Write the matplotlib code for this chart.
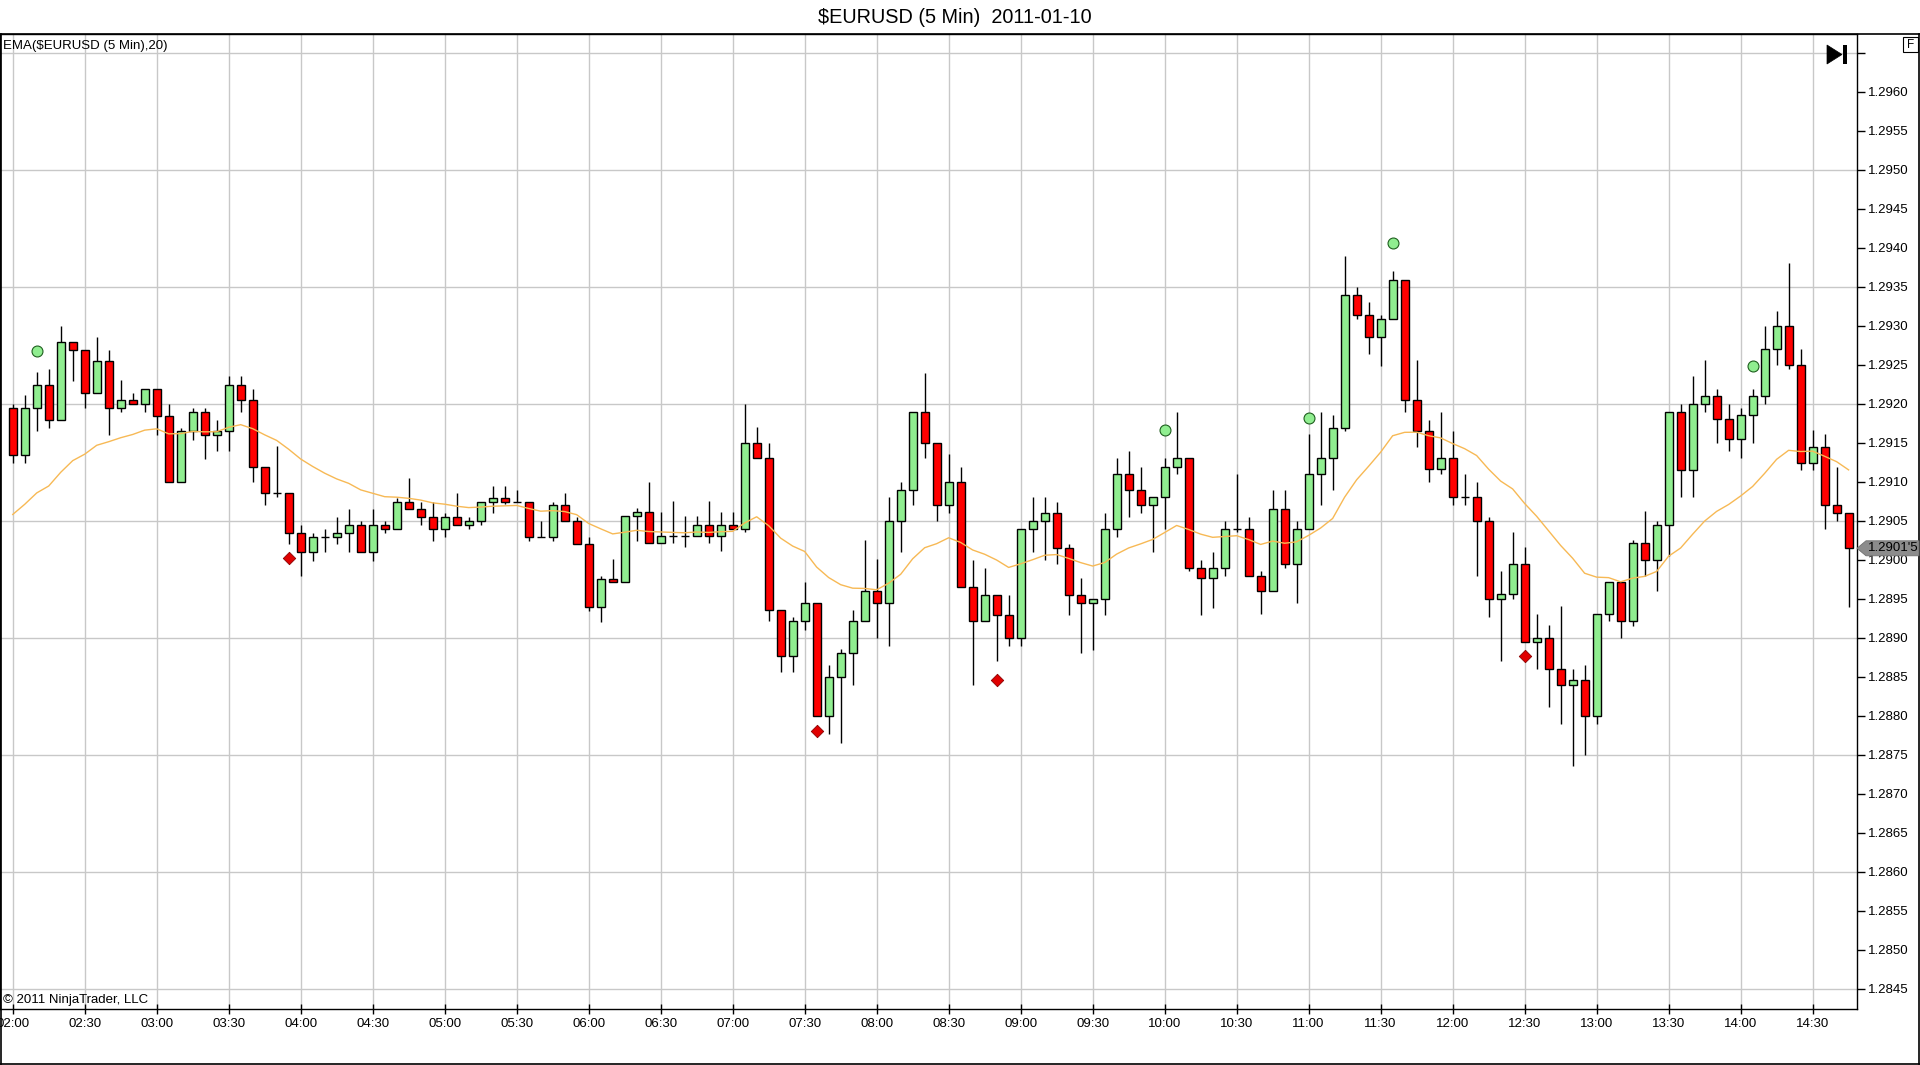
import numpy as np
import matplotlib
matplotlib.use("Agg")
import matplotlib.pyplot as plt
from matplotlib.patches import Polygon, Rectangle
from matplotlib.lines import Line2D

plt.rcParams['font.family'] = ['Liberation Sans', 'DejaVu Sans']

# ---------------- data (5 min bars, 02:00 .. 14:45) ----------------
opens = [
    1.29195, 1.29134, 1.29195, 1.29224, 1.29179, 1.29279, 1.29269, 1.29214, 1.29255, 1.29195,
    1.29205, 1.29200, 1.29219, 1.29184, 1.29100, 1.29165, 1.29190, 1.29160, 1.29165, 1.29224,
    1.29205, 1.29119, 1.29085, 1.29085, 1.29034, 1.29010, 1.29029, 1.29029, 1.29034, 1.29044,
    1.29010, 1.29044, 1.29039, 1.29074, 1.29065, 1.29055, 1.29039, 1.29055, 1.29044, 1.29050,
    1.29074, 1.29079, 1.29074, 1.29074, 1.29029, 1.29029, 1.29070, 1.29050, 1.29020, 1.28939,
    1.28975, 1.28971, 1.29056, 1.29061, 1.29021, 1.29030, 1.29030, 1.29030, 1.29045, 1.29030,
    1.29045, 1.29040, 1.29150, 1.29130, 1.28935, 1.28876, 1.28921, 1.28945, 1.28800, 1.28850,
    1.28881, 1.28921, 1.28960, 1.28945, 1.29050, 1.29090, 1.29190, 1.29150, 1.29070, 1.29100,
    1.28965, 1.28921, 1.28955, 1.28929, 1.28900, 1.29039, 1.29050, 1.29060, 1.29015, 1.28955,
    1.28945, 1.28950, 1.29039, 1.29110, 1.29090, 1.29070, 1.29080, 1.29119, 1.29130, 1.28990,
    1.28976, 1.28990, 1.29040, 1.29040, 1.28979, 1.28960, 1.29065, 1.28995, 1.29040, 1.29110,
    1.29130, 1.29169, 1.29340, 1.29314, 1.29285, 1.29309, 1.29359, 1.29205, 1.29165, 1.29116,
    1.29130, 1.29080, 1.29080, 1.29050, 1.28950, 1.28956, 1.28995, 1.28895, 1.28900, 1.28860,
    1.28840, 1.28846, 1.28800, 1.28930, 1.28971, 1.28921, 1.29021, 1.29000, 1.29045, 1.29190,
    1.29115, 1.29200, 1.29210, 1.29180, 1.29155, 1.29185, 1.29210, 1.29270, 1.29300, 1.29250,
    1.29124, 1.29144, 1.29070, 1.29060,
]
highs = [
    1.29200, 1.29211, 1.29241, 1.29245, 1.29300, 1.29279, 1.29269, 1.29285, 1.29269, 1.29230,
    1.29214, 1.29219, 1.29219, 1.29200, 1.29169, 1.29195, 1.29195, 1.29179, 1.29235, 1.29235,
    1.29219, 1.29119, 1.29146, 1.29085, 1.29045, 1.29034, 1.29039, 1.29055, 1.29065, 1.29050,
    1.29065, 1.29050, 1.29079, 1.29105, 1.29074, 1.29074, 1.29060, 1.29085, 1.29055, 1.29074,
    1.29095, 1.29095, 1.29090, 1.29074, 1.29050, 1.29074, 1.29085, 1.29055, 1.29029, 1.28979,
    1.29001, 1.29056, 1.29066, 1.29100, 1.29061, 1.29075, 1.29056, 1.29056, 1.29075, 1.29061,
    1.29061, 1.29200, 1.29170, 1.29150, 1.28935, 1.28926, 1.28971, 1.28945, 1.28865, 1.28885,
    1.28935, 1.29025, 1.29001, 1.29080, 1.29100, 1.29190, 1.29240, 1.29150, 1.29135, 1.29119,
    1.29000, 1.28990, 1.28955, 1.28955, 1.29039, 1.29080, 1.29080, 1.29074, 1.29020, 1.28976,
    1.28950, 1.29060, 1.29130, 1.29140, 1.29119, 1.29080, 1.29130, 1.29190, 1.29130, 1.29000,
    1.29010, 1.29050, 1.29110, 1.29055, 1.28985, 1.29090, 1.29090, 1.29050, 1.29161, 1.29190,
    1.29185, 1.29390, 1.29350, 1.29330, 1.29314, 1.29370, 1.29359, 1.29256, 1.29179, 1.29190,
    1.29165, 1.29110, 1.29100, 1.29055, 1.28985, 1.29035, 1.29016, 1.28930, 1.28916, 1.28941,
    1.28860, 1.28865, 1.28930, 1.28971, 1.28971, 1.29025, 1.29062, 1.29050, 1.29190, 1.29200,
    1.29235, 1.29256, 1.29219, 1.29200, 1.29195, 1.29219, 1.29300, 1.29319, 1.29380, 1.29270,
    1.29166, 1.29161, 1.29119, 1.29060,
]
lows = [
    1.29124, 1.29124, 1.29165, 1.29169, 1.29179, 1.29229, 1.29194, 1.29214, 1.29160, 1.29190,
    1.29200, 1.29190, 1.29160, 1.29100, 1.29100, 1.29154, 1.29129, 1.29139, 1.29139, 1.29190,
    1.29100, 1.29070, 1.29080, 1.29020, 1.28979, 1.28999, 1.29010, 1.29020, 1.29010, 1.29010,
    1.28999, 1.29034, 1.29039, 1.29065, 1.29044, 1.29024, 1.29029, 1.29044, 1.29039, 1.29044,
    1.29060, 1.29071, 1.29074, 1.29024, 1.29029, 1.29024, 1.29050, 1.29020, 1.28934, 1.28920,
    1.28971, 1.28971, 1.29024, 1.29021, 1.29021, 1.29021, 1.29016, 1.29030, 1.29021, 1.29011,
    1.29040, 1.29035, 1.29130, 1.28921, 1.28856, 1.28856, 1.28910, 1.28800, 1.28776, 1.28765,
    1.28840, 1.28921, 1.28900, 1.28890, 1.29010, 1.29070, 1.29130, 1.29050, 1.29060, 1.28965,
    1.28839, 1.28921, 1.28870, 1.28889, 1.28889, 1.29010, 1.29000, 1.28995, 1.28929, 1.28881,
    1.28884, 1.28929, 1.29029, 1.29055, 1.29060, 1.29010, 1.29039, 1.29110, 1.28985, 1.28929,
    1.28938, 1.28979, 1.29035, 1.28979, 1.28930, 1.28960, 1.28990, 1.28945, 1.29040, 1.29070,
    1.29090, 1.29165, 1.29308, 1.29264, 1.29249, 1.29309, 1.29189, 1.29145, 1.29100, 1.29110,
    1.29070, 1.29070, 1.28979, 1.28926, 1.28870, 1.28950, 1.28895, 1.28860, 1.28811, 1.28790,
    1.28736, 1.28750, 1.28790, 1.28921, 1.28900, 1.28915, 1.28979, 1.28960, 1.29005, 1.29080,
    1.29080, 1.29190, 1.29150, 1.29139, 1.29130, 1.29150, 1.29200, 1.29250, 1.29244, 1.29115,
    1.29115, 1.29040, 1.29050, 1.28940,
]
closes = [
    1.29134, 1.29195, 1.29224, 1.29179, 1.29279, 1.29269, 1.29214, 1.29255, 1.29195, 1.29205,
    1.29200, 1.29219, 1.29184, 1.29100, 1.29165, 1.29190, 1.29160, 1.29165, 1.29224, 1.29205,
    1.29119, 1.29085, 1.29085, 1.29034, 1.29010, 1.29029, 1.29029, 1.29034, 1.29044, 1.29010,
    1.29044, 1.29039, 1.29074, 1.29065, 1.29055, 1.29039, 1.29055, 1.29044, 1.29050, 1.29074,
    1.29079, 1.29074, 1.29074, 1.29029, 1.29029, 1.29070, 1.29050, 1.29020, 1.28939, 1.28975,
    1.28971, 1.29056, 1.29061, 1.29021, 1.29030, 1.29030, 1.29030, 1.29045, 1.29030, 1.29045,
    1.29040, 1.29150, 1.29130, 1.28935, 1.28876, 1.28921, 1.28945, 1.28800, 1.28850, 1.28881,
    1.28921, 1.28960, 1.28945, 1.29050, 1.29090, 1.29190, 1.29150, 1.29070, 1.29100, 1.28965,
    1.28921, 1.28955, 1.28929, 1.28900, 1.29039, 1.29050, 1.29060, 1.29015, 1.28955, 1.28945,
    1.28950, 1.29039, 1.29110, 1.29090, 1.29070, 1.29080, 1.29119, 1.29130, 1.28990, 1.28976,
    1.28990, 1.29040, 1.29040, 1.28979, 1.28960, 1.29065, 1.28995, 1.29040, 1.29110, 1.29130,
    1.29169, 1.29340, 1.29314, 1.29285, 1.29309, 1.29359, 1.29205, 1.29165, 1.29116, 1.29130,
    1.29080, 1.29080, 1.29050, 1.28950, 1.28956, 1.28995, 1.28895, 1.28900, 1.28860, 1.28840,
    1.28846, 1.28800, 1.28930, 1.28971, 1.28921, 1.29021, 1.29000, 1.29045, 1.29190, 1.29115,
    1.29200, 1.29210, 1.29180, 1.29155, 1.29185, 1.29210, 1.29270, 1.29300, 1.29250, 1.29124,
    1.29144, 1.29070, 1.29060, 1.29015,
]
time_labels = [
    "02:00", "02:30", "03:00", "03:30", "04:00", "04:30", "05:00", "05:30", "06:00",
    "06:30", "07:00", "07:30", "08:00", "08:30", "09:00", "09:30", "10:00", "10:30",
    "11:00", "11:30", "12:00", "12:30", "13:00", "13:30", "14:00", "14:30",
]
bars_per_label = 6
ema_period = 20
ema_seed = 1.2905          # EMA value carried in from before the first visible bar
up_signal_bars = [2, 96, 108, 115, 145]
up_signal_prices = [1.29267, 1.29166, 1.29182, 1.29406, 1.29249]
down_signal_bars = [23, 67, 82, 126]
down_signal_prices = [1.29002, 1.28781, 1.28846, 1.28876]
price_ticks = [1.2845, 1.2850, 1.2855, 1.2860, 1.2865, 1.2870, 1.2875, 1.2880, 1.2885,
               1.2890, 1.2895, 1.2900, 1.2905, 1.2910, 1.2915, 1.2920, 1.2925, 1.2930,
               1.2935, 1.2940, 1.2945, 1.2950, 1.2955, 1.2960, 1.2965]
price_grid = [1.2845, 1.2860, 1.2875, 1.2890, 1.2905, 1.2920, 1.2935, 1.2950, 1.2965]
last_price_label = "1.2901'5"
title = "\\$EURUSD (5 Min)  2011-01-10"
indicator_label = "EMA(\\$EURUSD (5 Min),20)"
copyright_label = "\u00a9 2011 NinjaTrader, LLC"

# ---------------- figure ----------------
W, H = 1920, 1065
fig = plt.figure(figsize=(W / 100, H / 100), dpi=100)
fig.patch.set_facecolor('white')


def fx(px):
    return px / W


def fy(py):
    return 1 - py / H


ax = fig.add_axes([0, fy(1009), fx(1857), (1009 - 34) / H])
ax.set_facecolor('white')

o = np.array(opens)
h = np.array(highs)
l = np.array(lows)
c = np.array(closes)
n = len(c)
x = np.arange(n)

# grid
grid_col = '#c8c8c8'
for t in range(0, n, bars_per_label):
    ax.axvline(t, color=grid_col, lw=1, zorder=0)
for p in price_grid:
    ax.axhline(p, color=grid_col, lw=1, zorder=0)

# candles
ax.vlines(x, l, h, color='black', lw=1, zorder=3)
colors = ['#90ee90' if cc > oo else ('#ff0000' if cc < oo else 'black') for oo, cc in zip(o, c)]
bottoms = np.minimum(o, c)
heights = np.abs(c - o)
ax.bar(x, heights, width=0.66, bottom=bottoms, color=colors, edgecolor='black',
       linewidth=1, zorder=4)

# EMA(20)
k = 2.0 / (ema_period + 1)
ema = []
prev = ema_seed
for cc in c:
    prev = prev + k * (cc - prev)
    ema.append(prev)
ax.plot(x, ema, color='#f7b955', lw=1.0, zorder=5)

# signals
ax.scatter(up_signal_bars, up_signal_prices, s=62, marker='o', facecolor='#90ee90',
           edgecolor='#1f5f1f', linewidth=0.8, zorder=6)
ax.scatter(down_signal_bars, down_signal_prices, s=40, marker='D', facecolor='#e00000',
           edgecolor='#8b0000', linewidth=0.6, zorder=6)

# axes limits / ticks
ax.set_xlim(-1.06, 153.7)
ax.set_ylim(1.28424, 1.29674)
ax.set_xticks(list(range(0, n, bars_per_label)))
ax.set_xticklabels(time_labels)
ax.yaxis.tick_right()
ax.set_yticks(price_ticks)
ax.set_yticklabels([f"{v:.4f}" if v < 1.2962 else "" for v in price_ticks])
ax.tick_params(axis='x', direction='inout', length=7, width=1, pad=3, labelsize=9.5,
               colors='black')
ax.tick_params(axis='y', direction='out', length=6, width=1, pad=2, labelsize=9.5,
               colors='black')
for s in ax.spines.values():
    s.set_color('black')
    s.set_linewidth(1)

# outer frame
frame_kw = dict(transform=fig.transFigure, color='black', lw=1.2)
fig.add_artist(Line2D([0, 1], [fy(34), fy(34)], **frame_kw))
fig.add_artist(Line2D([fx(0.6), fx(0.6)], [fy(34), fy(1064.4)], **frame_kw))
fig.add_artist(Line2D([fx(1919.4), fx(1919.4)], [fy(34), fy(1064.4)], **frame_kw))
fig.add_artist(Line2D([0, 1], [fy(1064.4), fy(1064.4)], **frame_kw))

# texts
fig.text(0.4975, fy(17.5), title, ha='center', va='center', fontsize=14.3)
fig.text(fx(3), fy(46), indicator_label, ha='left', va='center', fontsize=9.5)
fig.text(fx(3), fy(1000), copyright_label, ha='left', va='center', fontsize=9.5)

# "go to last bar" icon and F box
fig.add_artist(Polygon([(fx(1827), fy(45)), (fx(1827), fy(64)), (fx(1842), fy(54.5))],
                       closed=True, transform=fig.transFigure, facecolor='black',
                       edgecolor='black', lw=0.5))
fig.add_artist(Rectangle((fx(1843), fy(64)), 4 / W, 19 / H, transform=fig.transFigure,
                         facecolor='black', edgecolor='none'))
fig.add_artist(Rectangle((fx(1903), fy(52)), 15 / W, 15 / H, transform=fig.transFigure,
                         facecolor='white', edgecolor='black', lw=0.8))
fig.text(fx(1910.5), fy(44.5), "F", ha='center', va='center', fontsize=8.5)

# last price marker
last_y_px = 521 + (1.2905 - c[-1]) / 0.0001 * 7.8
fig.add_artist(Polygon([(fx(1857), fy(last_y_px)), (fx(1866), fy(last_y_px - 7.5)),
                        (fx(1919), fy(last_y_px - 7.5)), (fx(1919), fy(last_y_px + 7.5)),
                        (fx(1866), fy(last_y_px + 7.5))], closed=True,
                       transform=fig.transFigure, facecolor='#8c8c8c', edgecolor='#707070',
                       lw=0.6, zorder=10))
fig.text(fx(1893), fy(last_y_px), last_price_label, ha='center', va='center',
         fontsize=9.5, color='black', zorder=11)

fig.savefig('out.png', dpi=100, facecolor='white')
